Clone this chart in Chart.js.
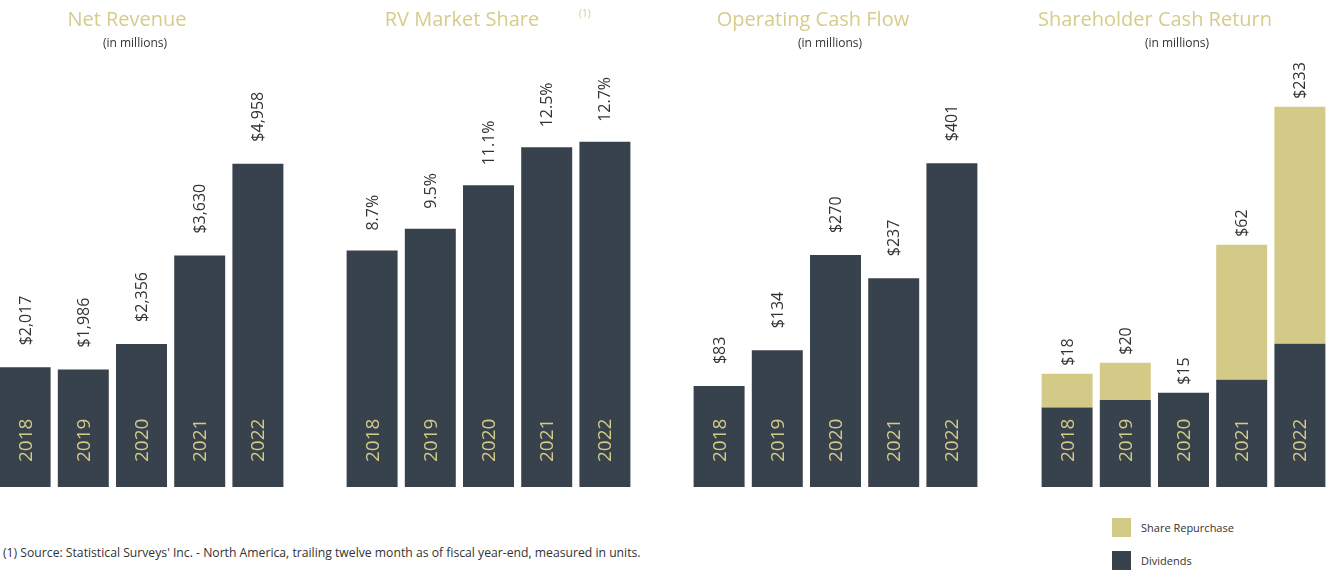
<!DOCTYPE html>
<html>
<head>
<meta charset="utf-8">
<script src="https://cdn.jsdelivr.net/npm/chart.js@4.4.0/dist/chart.umd.min.js"></script>
<style>
  html, body { margin: 0; padding: 0; background: #fff; }
  body { width: 1328px; height: 570px; position: relative; overflow: hidden; font-family: 'Open Sans', sans-serif; }
  canvas { position: absolute; top: 0; }
  .title { position: absolute; width: 320px; text-align: center; color: #d6cc8c; font-size: 20px; top: 5px; white-space: nowrap; }
  .sub { position: absolute; width: 200px; text-align: center; color: #333; font-size: 12px; top: 34px; }
  .sup { position: absolute; color: #d6cc8c; font-size: 10px; top: 6px; }
  .note { position: absolute; left: 3px; top: 544px; color: #333; font-size: 12.2px; white-space: nowrap; }
  .legend { position: absolute; left: 1112px; top: 518px; font-size: 11px; color: #333; }
  .legend div { height: 33px; display: flex; align-items: flex-start; }
  .legend span.box { display: inline-block; width: 19px; height: 19px; margin-right: 10px; }
  .legend span.txt { line-height: 19px; }
</style>
</head>
<body>
<canvas id="revenue" width="291" height="487" style="left:-4px"></canvas>
<canvas id="share" width="291" height="487" style="left:343px"></canvas>
<canvas id="cashflow" width="291" height="487" style="left:690px"></canvas>
<canvas id="cashreturn" width="291" height="487" style="left:1038px"></canvas>

<div class="title" style="left:-33px">Net Revenue</div>
<div class="sub" style="left:35px">(in millions)</div>
<div class="title" style="left:302px">RV Market Share</div>
<div class="sup" style="left:579px">(1)</div>
<div class="title" style="left:653px">Operating Cash Flow</div>
<div class="sub" style="left:730px">(in millions)</div>
<div class="title" style="left:995px">Shareholder Cash Return</div>
<div class="sub" style="left:1077px">(in millions)</div>

<div class="note">(1) Source: Statistical Surveys' Inc. - North America, trailing twelve month as of fiscal year-end, measured in units.</div>
<div class="legend">
  <div><span class="box" style="background:#d4ca87"></span><span class="txt">Share Repurchase</span></div>
  <div><span class="box" style="background:#38424c"></span><span class="txt">Dividends</span></div>
</div>

<script>
const years = ['2018', '2019', '2020', '2021', '2022'];
const netRevenue = [2017, 1986, 2356, 3630, 4958];
const marketShare = [8.7, 9.5, 11.1, 12.5, 12.7];
const operatingCashFlow = [83, 134, 270, 237, 401];
const dividends = [13, 14, 15, 17, 24];
const shareRepurchase = [5, 6, 0, 45, 209];

const DARK = '#38424c';
const KHAKI = '#d4ca87';

// rotated value label above each bar, rotated year inside it
const barLabels = {
  id: 'barLabels',
  afterDatasetsDraw(chart, args, opts) {
    const ctx = chart.ctx;
    const metas = chart.data.datasets.map((d, i) => chart.getDatasetMeta(i));
    const bottom = chart.chartArea.bottom;
    chart.data.labels.forEach((year, i) => {
      const x = metas[0].data[i].x;
      const top = Math.min(...metas.map(m => m.data[i].y));
      const total = chart.data.datasets.reduce((a, d) => a + d.data[i], 0);

      ctx.save();
      ctx.translate(x, top - opts.gap);
      ctx.rotate(-Math.PI / 2);
      ctx.font = '16px "Open Sans"';
      ctx.fillStyle = '#333';
      ctx.textAlign = 'left';
      ctx.textBaseline = 'middle';
      ctx.fillText(opts.format(total), 0, 1);
      ctx.restore();

      ctx.save();
      ctx.translate(x, bottom - 25);
      ctx.rotate(-Math.PI / 2);
      ctx.font = '19px "Open Sans"';
      ctx.fillStyle = KHAKI;
      ctx.textAlign = 'left';
      ctx.textBaseline = 'middle';
      ctx.fillText(year, 0, 1);
      ctx.restore();
    });
  }
};

function makeChart(id, datasets, yScale, gap, format) {
  return new Chart(document.getElementById(id), {
    type: 'bar',
    data: { labels: years, datasets: datasets },
    options: {
      responsive: false,
      animation: false,
      layout: { padding: 0 },
      datasets: { bar: { barPercentage: 0.876, categoryPercentage: 1.0, borderWidth: 0 } },
      scales: {
        x: { display: false, stacked: true },
        y: Object.assign({ display: false, stacked: true }, yScale)
      },
      plugins: {
        legend: { display: false },
        tooltip: { enabled: false },
        barLabels: { gap: gap, format: format }
      }
    },
    plugins: [barLabels]
  });
}

const money = v => '$' + v.toLocaleString('en-US');

makeChart('revenue',
  [{ data: netRevenue, backgroundColor: DARK }],
  { min: 290, max: 7320 }, 22, money);

makeChart('share',
  [{ data: marketShare, backgroundColor: DARK }],
  { min: 0, max: 17.92 }, 20, v => v.toFixed(1) + '%');

makeChart('cashflow',
  [{ data: operatingCashFlow, backgroundColor: DARK, base: -61 }],
  { min: -61, max: 634 }, 22, money);

makeChart('cashreturn',
  [
    { label: 'Dividends', data: dividends, backgroundColor: DARK },
    { label: 'Share Repurchase', data: shareRepurchase, backgroundColor: KHAKI }
  ],
  { type: 'logarithmic', min: 6.07, max: 649 }, 8, money);
</script>
</body>
</html>
